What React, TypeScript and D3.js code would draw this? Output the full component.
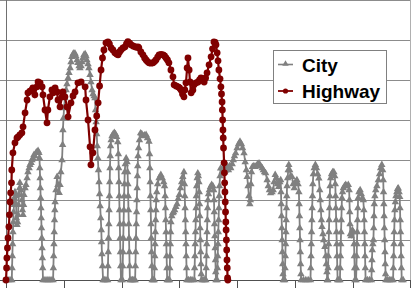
import React from "react";
import * as d3 from "d3";

// time (s) , speed (mph)
const city: [number, number][] = [
  [0,0],[7,0],[14,0],[20,0],
  [21,3],[22,6],[23,9],[24,12],[25,14.5],[26,17],[28,18.8],[29,20.5],[31,22],[33,21],[35,18.8],[36,15.5],[38,13.8],[40,14.5],[42,16.3],[43,18.8],[45,21.3],[47,23],[48,24.3],[52,22.5],[55,20],[57,17.5],[59,16.3],[61,18.8],[62,21.3],[66,23],[69,23.8],[73,25.5],[76,27],[80,28],[83,28.8],[87,29.3],[90,30],[93,30.5],[97,31.3],[100,31],[104,31.8],[107,32],[111,32.3],[114,31.8],[116,30.5],
  [117,28],[118,25.5],[119,23],[120,20.5],[121,18],[122,15.5],[123,13],[124,10.5],[125,8],[126,5.5],[127,3],[128,0],
  [135,0],[142,0],[149,0],[156,0],[163,0],
  [164,3],[165,6],[166,9],[167,12],[168,15],[169,17.5],[170,19.5],[173,22.5],[177,25.8],[180,23.8],[184,21.8],[187,23.8],[190,27],[194,30],[196,33.8],[197,37.5],[199,40.5],[201,43],[204,45.5],[208,47.5],[211,49],[215,50.5],[218,51.8],[222,53],[225,54.5],[228,55.8],[232,56.5],[235,56.7],[239,56.6],[242,56],[246,55],[249,54.3],[253,53.5],[256,53],[260,53.5],[263,54.5],[266,55.5],[270,56.3],[274,56.5],[277,56],[280,55],[284,54],[287,53],[291,51.3],[294,49.5],[298,47.5],[301,46.5],[305,46],[308,45.5],
  [310,42.5],[312,39.5],[314,36.5],[316,33.5],[318,30.5],[320,27.5],[322,24.5],[324,21.5],[326,18.5],[328,15.5],[330,12.5],[331,9.5],[332,6.5],[334,3.5],[336,0],
  [340,0],[346,0],[352,0],
  [353,3.5],[354,7],[355,10.5],[356,14],[357,17.5],[358,21],[359,24.5],[360,28],[361,31],[362,33.5],[364,35],[367,36],[371,36.5],[375,36.8],[379,36.5],[383,35.8],[387,34.5],[389,31.5],[390,28],[391,24.5],[392,21],[393,17.5],[394,14],[395,10.5],[396,7],[397,3.5],[398,0],
  [403,0],
  [404,3.5],[405,7],[406,10.5],[407,14],[408,17.5],[409,21],[410,24],[411,27],[413,29],[416,30.4],[419,29.5],[421,27],[422,24],[423,21],[424,17.5],[425,14],[426,10.5],[427,7],[428,3.5],[429,0],
  [433,0],[438,0],[443,0],[447,0],
  [448,3.5],[449,7],[450,10.5],[451,14],[452,17],[453,20],[454,23],[455,26],[456,28.5],[457,31],[459,33],[462,35],[466,36.7],[470,36.5],[475,36],[480,36.2],[485,36.3],[490,35.5],[495,34.6],[497,31.5],[498,28],[499,24.5],[500,21],[501,17.5],[502,14],[503,10.5],[504,7],[505,3.5],[506,0],
  [510,0],[513,0],
  [514,3],[515,6],[516,9],[517,12],[518,15],[519,17.5],[520,20],[522,22],[525,24],[530,25.5],[536,26.3],[541,25.5],[546,24.5],[549,23.5],[551,21],[552,18],[553,15],[554,12],[555,9],[556,6],[557,3],[558,0],
  [562,0],[566,0],
  [567,3],[568,6],[569,9],[570,12],[571,14.5],[574,16],[577,16.7],[580,17],[584,17.5],[588,18.3],[592,19],[596,20.3],[600,21.3],[604,23],[608,24.5],[612,25.8],[616,27],[618,24],[619,21],[620,18],[621,15],[622,12],[623,9],[624,6],[625,3],[626,0],
  [632,0],[638,0],[644,0],[652,0],
  [653,3],[654,6],[655,9],[656,12],[657,15],[658,18],[659,21],[660,23.5],[662,25.5],[664,26.7],[666,26],[668,24.5],[669,22],[670,19],[671,16],[672,13],[673,10],[674,7],[675,4],[676,1.5],[677,0],
  [682,0],[687,0],[692,0],
  [693,3],[694,6],[695,9],[696,12],[697,15],[698,18],[699,20],[701,21.5],[704,22.5],[708,23.3],[712,23.8],[716,23.5],[719,22.5],[720,20],[721,17],[722,14],[723,11],[724,8],[725,5],[726,2],[727,0],
  [731,0],
  [732,3],[733,6],[734,9],[735,12],[736,15],[737,18],[738,21],[739,23.5],[741,26],[743,27.9],[748,27],[752,28],[757,27],[761,27.5],[766,28.5],[770,27.5],[774,28.5],[778,28],[783,29],[787,30],[791,31],[795,31.7],[800,33],[805,34],[810,34.6],[815,34],[819,33],[824,31.7],[828,29.5],[832,27.5],[835,25.8],[838,23.5],[841,21],[844,19],[846,20],[848,24],[850,27],[853,28.3],[858,28.5],[862,28.3],[866,28.5],[871,29],[876,29.2],[881,28.5],[887,28],[891,27.5],[895,27],[899,26.7],[904,25],[908,23.5],[912,22.5],[916,21.7],[921,22],[925,22.5],[928,24.5],[932,26.3],[936,25.5],[940,24],[944,23.3],[948,24.5],[951,25],[952,22],[953,19],[954,16],[955,13],[956,10],[957,7],[958,4],[959,1.5],[960,0],
  [965,0],
  [966,3],[967,6],[968,9],[969,12],[970,15],[971,18],[972,21],[973,23.5],[975,25.5],[977,27.5],[979,28.8],[982,27.5],[986,26],[990,25.8],[994,24],[998,23],[1002,24.5],[1007,25],[1011,24],[1014,22],[1015,19],[1016,16],[1017,13],[1018,10],[1019,7],[1020,4],[1021,1.5],[1022,0],
  [1030,0],[1038,0],[1046,0],[1054,0],
  [1055,3],[1056,6],[1057,9],[1058,12],[1059,15],[1060,18],[1061,21],[1062,24],[1064,26.5],[1067,28],[1071,28.8],[1075,28],[1079,26.5],[1083,25.4],[1086,22.5],[1088,20],[1090,17.5],[1092,15],[1094,13.3],[1097,11.5],[1100,10],[1104,8.3],[1107,6],[1109,4],[1111,2],[1112,0],
  [1114,0],
  [1115,3],[1116,6],[1117,9],[1118,12],[1119,15],[1120,18],[1121,21],[1122,23.5],[1124,25.5],[1127,26.5],[1131,27],[1135,27],[1138,26],[1140,24],[1141,21],[1142,18],[1143,15],[1144,12],[1145,9],[1146,6],[1147,3],[1148,0],
  [1152,0],[1156,0],
  [1157,3],[1158,6],[1159,9],[1160,12],[1161,15],[1162,18],[1163,20.5],[1165,22],[1168,23],[1172,23.5],[1176,23.8],[1180,23.5],[1185,23.8],[1188,22.5],[1189,20],[1190,17],[1191,14],[1192,11.5],[1195,11],[1199,12.5],[1203,12],[1205,9],[1206,6],[1207,3],[1208,0],
  [1212,0],
  [1213,3],[1214,6],[1215,9],[1216,12],[1217,15],[1218,18],[1219,20.5],[1222,22],[1226,22.5],[1230,21.5],[1234,20.5],[1237,20],[1239,17.5],[1240,15],[1241,12],[1242,9],[1243,6],[1244,3],[1245,0],
  [1251,0],[1258,0],[1265,0],
  [1266,2.5],[1267,5],[1268,7.5],[1270,9],[1272,10],[1273,13],[1274,16],[1275,19],[1277,21],[1280,22.5],[1284,23.5],[1289,25],[1293,26.5],[1297,28],[1301,28.8],[1304,27.5],[1306,25],[1307,22],[1308,19],[1309,16],[1310,13],[1311,10],[1312,7],[1313,4],[1314,1.5],[1315,0],
  [1321,0],[1327,0],[1333,0],[1340,0],
  [1341,3],[1342,6],[1343,9],[1344,12],[1345,15],[1346,17.5],[1348,19.5],[1350,21],[1353,22],[1356,22.8],[1358,22.9],[1361,22],[1363,20.8],[1364,18],[1365,15],[1366,12],[1367,9],[1368,6],[1369,3],[1370,0],[1375,0],
];

const highway: [number, number][] = [
  [0,0],[2,3],[3,5.5],[5,8],[7,10.5],[10,13.3],[12,16.3],[14,19.5],[16,21.8],[19,24.3],[20,27.5],[24,31.8],[31,34.3],[38,35.5],[42,35.8],[48,36.3],[55,36.8],[59,38.3],[66,41.8],[73,45],[76,46.8],[83,47.2],[90,47.5],[93,48],[100,46.3],[107,48.3],[111,49.5],[118,49.3],[125,48.3],[128,46.3],[135,42.5],[142,39.3],[145,42.5],[152,45.8],[159,47.5],[163,46.8],[170,48],[177,47],[180,45],[187,43.3],[194,45.8],[197,47],[204,45.8],[211,43.3],[215,40.8],[225,44.3],[232,46],[239,47],[249,49.3],[260,49.5],[274,48.3],[277,45],[284,40],[291,33.3],[294,28.8],[301,31.8],[308,37.5],[314,41],[319,44.3],[324,48.5],[329,52.5],[334,55.5],[339,57.5],[346,59.3],[353,59.5],[358,59],[364,58],[370,57.5],[377,56.8],[383,56.5],[388,56.3],[393,57],[398,57.5],[405,58],[412,58.3],[417,59],[422,59.6],[428,59.2],[433,58.8],[440,58.5],[447,58.3],[452,58.2],[457,58.3],[460,58],[467,57],[474,56.3],[480,55.5],[485,55],[490,54.6],[495,54.3],[502,54.2],[509,54.3],[514,54.6],[519,55],[525,55.7],[530,56.3],[537,56.4],[544,56.3],[549,56],[554,55.5],[559,55],[564,54.3],[571,52.5],[578,50.8],[582,48.8],[589,48.5],[596,48.3],[601,48],[606,47.5],[611,46.5],[616,45.8],[619,47.5],[623,49.3],[627,53],[630,55.5],[634,52.5],[637,49.5],[641,46.8],[647,47.5],[651,48.8],[658,49.3],[665,49.5],[670,50],[675,50.5],[681,50],[686,49.5],[691,50.5],[696,51.8],[703,53.8],[710,55.8],[715,57.8],[720,59.5],[724,59.4],[727,58.8],[731,56.8],[734,54.8],[737,52.5],[741,50.3],[744,48.3],[746,46.5],[748,44.5],[749,42.5],[750,40],[751,37.5],[752,35.5],[753,33],[755,29.3],[756,26.8],[757,24.3],[758,22],[759,19.5],[760,17],[761,14.5],[762,12.5],[763,10],[764,7.5],[765,5],[766,3],[767,0.5],[768,0],
];

const yTicks = [0, 10, 20, 30, 40, 50, 60, 70];
const xTicks = [0, 200, 400, 600, 800, 1000, 1200, 1400];
const seriesNames = ["City", "Highway"];

const W = 414;
const H = 288;
const GRAY = "#808080";
const RED = "#800000";

export default function App() {
  const x = d3.scaleLinear().domain([0, 1400]).range([6, 410.4]);
  const y = d3.scaleLinear().domain([0, 70]).range([280, 0]);
  const line = d3
    .line<[number, number]>()
    .x((d) => x(d[0]))
    .y((d) => y(d[1]));
  const tri = d3.symbol().type(d3.symbolTriangle).size(24)() as string;
  const triSmall = d3.symbol().type(d3.symbolTriangle).size(18)() as string;
  const crisp = (v: number) => Math.round(v) + 0.5;
  const font = "'Liberation Sans', Arial, sans-serif";

  return (
    <svg
      width={W}
      height={H}
      style={{ position: "absolute", left: 0, top: 0, background: "#fff" }}
    >
      <rect x={0} y={0} width={W} height={H} fill="#fff" />
      {yTicks.map((v) => (
        <line
          key={"g" + v}
          x1={0}
          x2={x(1400)}
          y1={crisp(y(v))}
          y2={crisp(y(v))}
          stroke={v === 0 ? "#505050" : "#8c8c8c"}
          strokeWidth={1}
        />
      ))}
      <line
        x1={crisp(x(1400))}
        x2={crisp(x(1400))}
        y1={0}
        y2={y(0)}
        stroke="#b0b0b0"
      />
      <line
        x1={crisp(x(0))}
        x2={crisp(x(0))}
        y1={0}
        y2={y(0) + 1}
        stroke="#707070"
      />
      {xTicks.map((t) => (
        <line
          key={"xt" + t}
          x1={crisp(x(t))}
          x2={crisp(x(t))}
          y1={y(0)}
          y2={H}
          stroke="#505050"
        />
      ))}

      <path d={line(city) || ""} fill="none" stroke={GRAY} strokeWidth={1.8} />
      {city.map((d, i) => (
        <path
          key={"c" + i}
          d={tri}
          transform={`translate(${x(d[0])},${y(d[1])})`}
          fill={GRAY}
        />
      ))}

      <path d={line(highway) || ""} fill="none" stroke={RED} strokeWidth={2.2} />
      {highway.map((d, i) => (
        <circle key={"h" + i} cx={x(d[0])} cy={y(d[1])} r={3.4} fill={RED} />
      ))}

      <rect
        x={273.5}
        y={50.5}
        width={113}
        height={53}
        fill="#fff"
        stroke="#808080"
      />
      <line x1={278} x2={293} y1={64.5} y2={64.5} stroke={GRAY} strokeWidth={1.6} />
      <path d={triSmall} transform="translate(285.5,64)" fill={GRAY} />
      <text x={302} y={71.5} fontFamily={font} fontWeight="bold" fontSize={19} fill="#000">
        {seriesNames[0]}
      </text>
      <line x1={278} x2={293} y1={91} y2={91} stroke={RED} strokeWidth={1.8} />
      <circle cx={285.5} cy={91} r={2.6} fill={RED} />
      <text x={302} y={97.5} fontFamily={font} fontWeight="bold" fontSize={19} fill="#000">
        {seriesNames[1]}
      </text>
    </svg>
  );
}
